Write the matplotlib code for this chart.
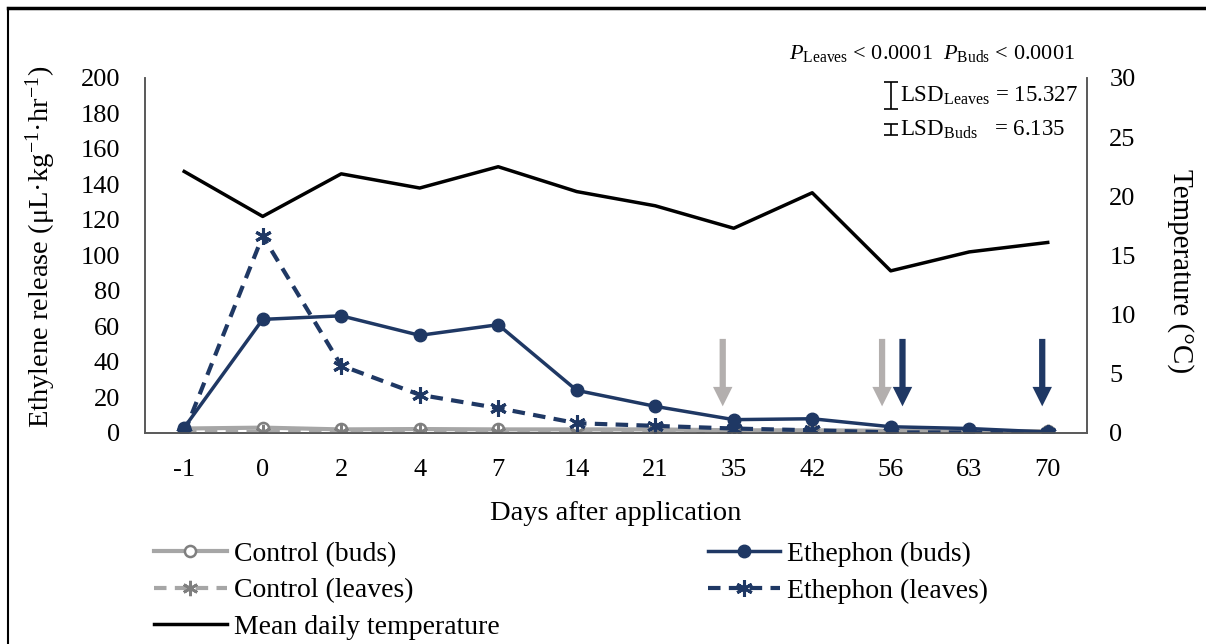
import matplotlib.pyplot as plt
from matplotlib.lines import Line2D

plt.rcParams['font.family'] = ['Liberation Serif', 'DejaVu Serif']
plt.rcParams['mathtext.fontset'] = 'custom'
plt.rcParams['mathtext.rm'] = 'Liberation Serif'
plt.rcParams['mathtext.it'] = 'Liberation Serif:italic'
plt.rcParams['mathtext.bf'] = 'Liberation Serif:bold'

# sampling days (categorical axis)
days = ['-1', '0', '2', '4', '7', '14', '21', '35', '42', '56', '63', '70']

# ethylene release, uL/kg/hr
control_buds = [2.5, 3.0, 2.0, 2.2, 2.0, 2.0, 2.0, 1.5, 1.5, 1.2, 1.2, 1.0]
control_leaves = [0.3, 0.3, 0.3, 0.3, 0.3, 0.3, 0.3, 0.3, 0.3, 0.3, 0.3, 0.3]
ethephon_buds = [3.0, 64.0, 66.0, 55.0, 61.0, 24.0, 15.0, 7.5, 8.0, 3.5, 2.5, 0.5]
ethephon_leaves = [0.0, 111.0, 38.0, 21.5, 14.0, 5.5, 4.0, 2.5, 1.5, 0.3, 0.3, 0.0]

# mean daily temperature, degC
temperature = [22.1, 18.3, 21.9, 20.7, 22.5, 20.4, 19.2, 17.3, 20.3, 13.7, 15.3, 16.1]

lsd_leaves = 15.327
lsd_buds = 6.135

# arrows marking sampling ends: (x position, colour)
arrow_x = [6.86, 8.89, 9.15, 10.93]
arrow_col = ['#b3afae', '#b3afae', '#1f3864', '#1f3864']

navy = '#1f3864'
grey = '#a6a6a6'
dgrey = '#7f7f7f'

fig = plt.figure(figsize=(12.06, 6.44), dpi=100)
ax = fig.add_axes([0.1202, 0.3277, 0.7811, 0.5512])
ax2 = ax.twinx()

x = list(range(len(days)))

ax.plot(x, control_buds, color=grey, lw=3, marker='o', ms=8, mfc='white',
        mec=dgrey, mew=1.8, zorder=3)
ax.plot(x, control_leaves, color=grey, lw=3, ls=(0, (3, 2)), marker=(6, 2, 0),
        ms=11, mec=dgrey, mew=2, zorder=3)
ax.plot(x, ethephon_buds, color=navy, lw=2.5, marker='o', ms=9, zorder=4)
ax.plot(x, ethephon_leaves, color=navy, lw=3, ls=(0, (3, 2)), marker=(6, 2, 0),
        ms=12, mec=navy, mew=2.2, zorder=4)
ax2.plot(x, temperature, color='black', lw=2.5)

for xa, c in zip(arrow_x, arrow_col):
    ax.annotate('', xy=(xa, 15), xytext=(xa, 53),
                arrowprops=dict(arrowstyle='simple,head_width=1.4,head_length=1.4,tail_width=0.45',
                                color=c, lw=0, shrinkA=0, shrinkB=0))

# LSD bars
ax.errorbar(9, 190, yerr=lsd_leaves / 2, color='black', capsize=5, lw=1.2, capthick=1.2)
ax.errorbar(9, 171, yerr=lsd_buds / 2, color='black', capsize=5, lw=1.2, capthick=1.2)
ax.text(9.12, 190, r'LSD$_{\mathrm{Leaves}}$ = %.3f' % lsd_leaves, fontsize=16.5, va='center')
ax.text(9.12, 171, r'LSD$_{\mathrm{Buds}}$   = %.3f' % lsd_buds, fontsize=16.5, va='center')
ax.text(11.35, 1.07, r'$P_{\mathrm{Leaves}}$ < 0.0001  $P_{\mathrm{Buds}}$ < 0.0001',
        transform=ax.get_xaxis_transform(), fontsize=16, ha='right', va='center')

ax.set_xlim(-0.5, 11.5)
ax.set_ylim(0, 200)
ax.set_yticks(range(0, 201, 20))
ax.set_xticks(x)
ax.set_xticklabels(days)
ax2.set_ylim(0, 30)
ax2.set_yticks(range(0, 31, 5))

for a in (ax, ax2):
    a.spines['top'].set_visible(False)
    for s in ('left', 'right', 'bottom'):
        a.spines[s].set_color('#595959')
        a.spines[s].set_linewidth(1.2)
ax.tick_params(axis='y', length=0, labelsize=19, pad=18)
ax.tick_params(axis='x', length=0, labelsize=19, pad=19)
ax2.tick_params(axis='y', length=0, labelsize=19, pad=16)

ax.set_xlabel('Days after application', fontsize=20.5, labelpad=14)
ax.set_ylabel(r'Ethylene release (μL·kg$^{-1}$·hr$^{-1}$)', fontsize=20.5, va='center')
ax.yaxis.set_label_coords(-0.111, 0.524)
ax2.set_ylabel('Temperature (°C)', fontsize=21, rotation=270, va='center')
ax2.yaxis.set_label_coords(1.099, 0.456)

handles = [
    Line2D([], [], color=grey, lw=3, marker='o', ms=8, mfc='white', mec=dgrey, mew=1.8),
    Line2D([], [], color=grey, lw=3, ls=(0, (3, 2)), marker=(6, 2, 0), ms=11, mec=dgrey, mew=2),
    Line2D([], [], color='black', lw=2.5),
    Line2D([], [], color=navy, lw=2.5, marker='o', ms=9),
    Line2D([], [], color=navy, lw=3, ls=(0, (3, 2)), marker=(6, 2, 0), ms=12, mec=navy, mew=2.2),
]
labels = ['Control (buds)', 'Control (leaves)', 'Mean daily temperature',
          'Ethephon (buds)', 'Ethephon (leaves)']
fig.legend(handles, labels, ncol=2, loc='upper left', bbox_to_anchor=(0.128, 0.159),
           frameon=False, fontsize=20, handlelength=2.6, handletextpad=0.25,
           labelspacing=0.4, columnspacing=7.5, borderaxespad=0, borderpad=0)

# frame lines around the figure
fig.add_artist(Line2D([8 / 1206, 8 / 1206], [0, 1 - 8 / 644], color='black', lw=1.5,
                      transform=fig.transFigure))
fig.add_artist(Line2D([8 / 1206, 1], [1 - 8 / 644, 1 - 8 / 644], color='black', lw=2.5,
                      transform=fig.transFigure))

fig.savefig('out.png', dpi=100)
